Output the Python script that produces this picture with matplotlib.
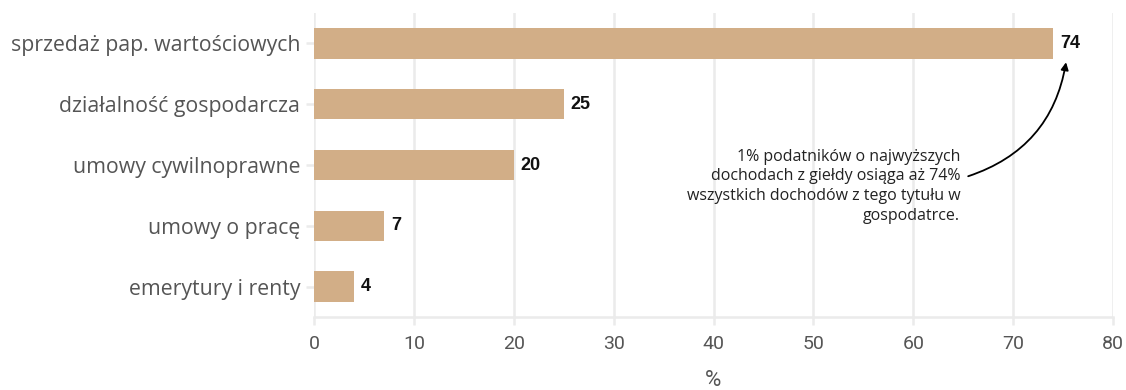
import matplotlib
matplotlib.use("Agg")
import matplotlib.pyplot as plt

categories = ["emerytury i renty", "umowy o pracę", "umowy cywilnoprawne",
              "działalność gospodarcza", "sprzedaż pap. wartościowych"]
values = [4, 7, 20, 25, 74]
x_ticks = [0, 10, 20, 30, 40, 50, 60, 70, 80]
note = ("1% podatników o najwyższych\n"
        "dochodach z giełdy osiąga aż 74%\n"
        "wszystkich dochodów z tego tytułu w\n"
        "gospodatrce.")

bar_color = "#d2ae87"
grid_color = "#ebebeb"
label_color = "#555555"

fig = plt.figure(figsize=(11.26, 3.9), dpi=100)
ax = fig.add_axes([314 / 1126, 1 - 317 / 390, (1113 - 314) / 1126, (317 - 13) / 390])

pos = list(range(len(categories)))
ax.barh(pos, values, height=0.5, color=bar_color, zorder=2)
for p, v in zip(pos, values):
    ax.text(v + 0.7, p, str(v), va="center", ha="left", fontsize=13,
            fontweight="bold", family="Liberation Sans", color="#111111")

ax.set_xlim(0, 80)
ax.set_ylim(-0.5, 4.5)
ax.set_xticks(x_ticks)
ax.set_yticks(pos)
ax.set_yticklabels(categories, family="Open Sans", fontsize=15.3, color=label_color)
for lab in ax.get_xticklabels():
    lab.set_family("Roboto")
    lab.set_fontsize(14)
    lab.set_color(label_color)

ax.grid(axis="x", color=grid_color, linewidth=1.8, zorder=0)
for s in ["top", "right", "left"]:
    ax.spines[s].set_visible(False)
ax.spines["bottom"].set_color(grid_color)
ax.spines["bottom"].set_linewidth(1.8)
ax.tick_params(axis="both", color=grid_color, width=1.8, length=6)
ax.tick_params(axis="x", pad=7)
ax.tick_params(axis="y", pad=4)

ax.set_xlabel("%", family="Roboto", fontsize=16, color=label_color, labelpad=12)

ax.text(64.7, 1.65, note, ha="right", va="center", family="Open Sans",
        fontsize=11.5, color="#222222", linespacing=1.3, zorder=3)
ax.annotate("", xy=(75.3, 3.69), xytext=(65.5, 1.815),
            arrowprops=dict(arrowstyle="-|>", color="black", lw=1.3,
                            connectionstyle="arc3,rad=0.3",
                            mutation_scale=11, shrinkA=0, shrinkB=0))

fig.savefig("out.png", dpi=100)
